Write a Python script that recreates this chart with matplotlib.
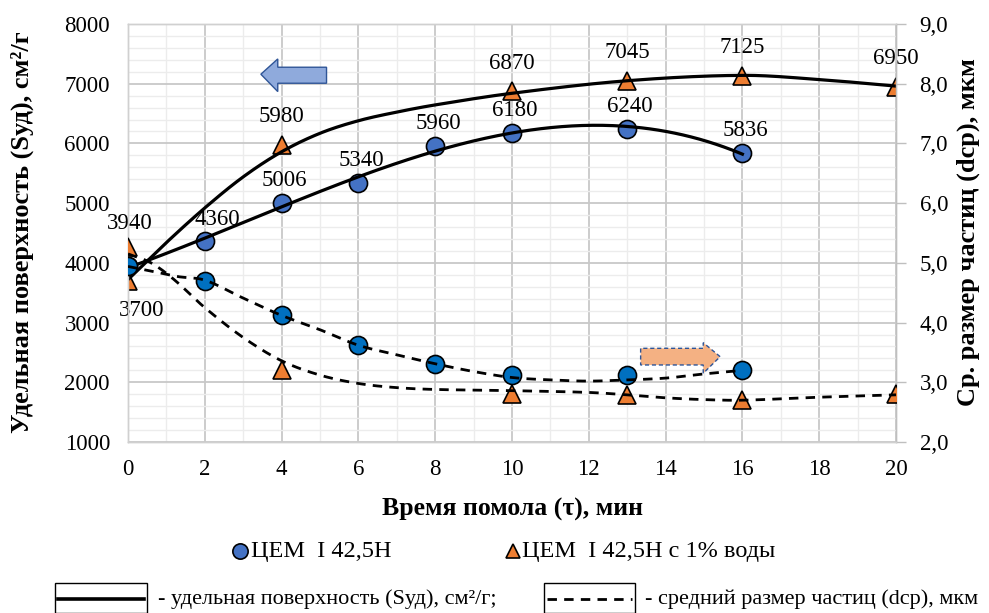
import numpy as np
import matplotlib
matplotlib.use("Agg")
import matplotlib.pyplot as plt
from matplotlib.patches import Polygon, Rectangle
from matplotlib.lines import Line2D

plt.rcParams['font.family'] = ['Liberation Serif', 'DejaVu Serif']

# ---------------- data ----------------
t_blue = [0, 2, 4, 6, 8, 10, 13, 16]
syd_blue = [3940, 4360, 5006, 5340, 5960, 6180, 6240, 5836]
dcp_blue = [4.95, 4.7, 4.12, 3.62, 3.31, 3.12, 3.12, 3.21]

t_orange = [0, 4, 10, 13, 16, 20]
syd_orange = [3700, 5980, 6870, 7045, 7125, 6950]
dcp_orange = [5.27, 3.2, 2.8, 2.78, 2.71, 2.8]

# trend curves
tr_syd_or_t = [0, 1, 2, 3, 4, 5, 6, 7, 8, 10, 13, 16, 18, 20]
tr_syd_or_v = [3720, 4340, 4920, 5440, 5860, 6170, 6380, 6525, 6645, 6840, 7050,
               7140, 7070, 6960]
tr_dcp_blue_t = [0, 0.7, 1.3, 2, 3, 4, 5, 6, 7, 8, 9, 10, 11, 12, 13, 14, 15, 16]
tr_dcp_blue_v = [4.94, 4.85, 4.77, 4.71, 4.41, 4.12, 3.88, 3.62, 3.46, 3.31, 3.18,
                 3.08, 3.04, 3.02, 3.04, 3.07, 3.14, 3.2]
tr_dcp_or_t = [0, 0.6, 1.2, 2, 3, 4, 5, 6, 7, 8, 10, 12, 13, 14, 15, 16, 18, 20]
tr_dcp_or_v = [5.15, 5.0, 4.72, 4.25, 3.75, 3.36, 3.12, 2.98, 2.91, 2.88, 2.86,
               2.83, 2.79, 2.74, 2.71, 2.70, 2.75, 2.79]

xticks = list(range(0, 21, 2))
yticks_left = list(range(1000, 8001, 1000))
yticks_right = [2.0, 3.0, 4.0, 5.0, 6.0, 7.0, 8.0, 9.0]


def smooth(tx, vy, n=30):
    """Hermite rendering of a read polyline with finite-difference slopes."""
    x = np.asarray(tx, float); y = np.asarray(vy, float)
    m = np.empty_like(y)
    m[1:-1] = (y[2:] - y[:-2]) / (x[2:] - x[:-2])
    m[0] = (y[1] - y[0]) / (x[1] - x[0])
    m[-1] = (y[-1] - y[-2]) / (x[-1] - x[-2])
    xs, ys = [], []
    for i in range(len(x) - 1):
        h = x[i + 1] - x[i]
        s = np.linspace(0, 1, n, endpoint=False)
        h00 = 2 * s**3 - 3 * s**2 + 1
        h10 = s**3 - 2 * s**2 + s
        h01 = -2 * s**3 + 3 * s**2
        h11 = s**3 - s**2
        xs.append(x[i] + s * h)
        ys.append(h00 * y[i] + h10 * h * m[i] + h01 * y[i + 1] + h11 * h * m[i + 1])
    xs.append([x[-1]]); ys.append([y[-1]])
    return np.concatenate(xs), np.concatenate(ys)


def poly_trend(tx, vy, deg):
    c = np.polyfit(tx, vy, deg)
    xs = np.linspace(min(tx), max(tx), 300)
    return xs, np.polyval(c, xs)


W, H = 989, 613
fig = plt.figure(figsize=(W / 100, H / 100), dpi=100)
L, R, T, B = 128, 896, 24, 442
ax = fig.add_axes([L / W, 1 - B / H, (R - L) / W, (B - T) / H])
ax2 = ax.twinx()

ax.set_xlim(0, 20)
ax.set_ylim(1000, 8000)
ax2.set_ylim(2, 9)

ax.set_xticks(xticks)
ax.set_xticks(range(0, 21), minor=True)
ax.set_yticks(yticks_left)
ax.set_yticks(range(1000, 8001, 200), minor=True)
ax.grid(which='major', color='#c8c8c8', lw=1.3)
ax.grid(which='minor', color='#ececec', lw=1.0)
ax.set_axisbelow(True)

ax.tick_params(axis='both', which='both', length=0, labelsize=16.5)
ax.tick_params(axis='y', pad=13)
ax.tick_params(axis='x', pad=12)
ax2.set_yticks(yticks_right)
ax2.set_yticklabels([f"{v:.1f}".replace('.', ',') for v in yticks_right])
ax2.tick_params(axis='y', length=7, width=1, color='#bfbfbf', labelsize=16.5, pad=10, direction='out')
for a in (ax, ax2):
    for s in a.spines.values():
        s.set_color('#d0d0d0')
        s.set_linewidth(1.0)
ax2.spines['right'].set_color('#bfbfbf')

# markers
ax.plot(t_blue, syd_blue, 'o', ms=13, mfc='#4472C4', mec='black', mew=1.2, zorder=3)
ax.plot(t_orange, syd_orange, '^', ms=13, mfc='#ED7D31', mec='black', mew=1.2, zorder=3)
ax2.plot(t_blue, dcp_blue, 'o', ms=13, mfc='#0070C0', mec='black', mew=1.2, zorder=3)
ax2.plot(t_orange, dcp_orange, '^', ms=13, mfc='#ED7D31', mec='black', mew=1.2, zorder=3)

# trend lines
x, y = poly_trend(t_blue, syd_blue, 3)
ax.plot(x, y, color='black', lw=2.3, zorder=4)
x, y = smooth(tr_syd_or_t, tr_syd_or_v)
ax.plot(x, y, color='black', lw=2.3, zorder=4)
x, y = smooth(tr_dcp_blue_t, tr_dcp_blue_v)
ax2.plot(x, y, color='black', lw=2.0, ls=(0, (3.4, 2.6)), zorder=4)
x, y = smooth(tr_dcp_or_t, tr_dcp_or_v)
ax2.plot(x, y, color='black', lw=2.0, ls=(0, (3.4, 2.6)), zorder=4)

# data labels
lab_kw = dict(textcoords='offset points', ha='center', va='center', fontsize=16.5, zorder=6)
for i, (t, v) in enumerate(zip(t_blue, syd_blue)):
    if i == 0:
        off = (1.5, 31)
    elif i == 1:
        off = (9, 16)
    else:
        off = (2, 16)
    ax.annotate(str(v), (t, v), xytext=off, **lab_kw)
for i, (t, v) in enumerate(zip(t_orange, syd_orange)):
    off = (10, -21.5) if i == 0 else (0, 20.5)
    ax.annotate(str(v), (t, v), xytext=off, **lab_kw)

# arrows (annotation shapes)
left_arrow = [(3.46, 7159), (3.9, 7415), (3.9, 7276), (5.17, 7276), (5.17, 7008),
              (3.9, 7008), (3.9, 6868)]
ax.add_patch(Polygon(left_arrow, closed=True, fc='#8FAADC', ec='#2F5597', lw=1.0, zorder=5))
right_arrow = [(15.42, 2429), (14.98, 2663), (14.98, 2569), (13.35, 2569), (13.35, 2290),
               (14.98, 2290), (14.98, 2151)]
ax.add_patch(Polygon(right_arrow, closed=True, fc='#F4B183', ec='#2F5597', lw=1.0,
                     ls=(0, (3, 2)), zorder=5))

# axis labels
ax.set_xlabel('Время помола (τ), мин', fontsize=18.5, fontweight='bold', labelpad=13)
fig.text(22 / W, 1 - 232 / H, 'Удельная поверхность (Sуд), см²/г', rotation=90,
         ha='center', va='center', fontsize=19, fontweight='bold')
fig.text(968 / W, 1 - 232 / H, 'Ср. размер частиц (dср), мкм', rotation=90,
         ha='center', va='center', fontsize=19, fontweight='bold')

# marker legend
ly = 1 - 551 / H
fig.add_artist(Line2D([240 / W], [ly], marker='o', ms=11, mfc='#4472C4', mec='black',
                      mew=1.2, transform=fig.transFigure))
fig.text(251 / W, ly, 'ЦЕМ  I 42,5Н', ha='left', va='center', fontsize=17.5)
fig.add_artist(Line2D([513 / W], [ly], marker='^', ms=10, mfc='#ED7D31', mec='black',
                      mew=1.2, transform=fig.transFigure))
fig.text(522 / W, ly, 'ЦЕМ  I 42,5Н с 1% воды', ha='left', va='center', fontsize=17.5)

# line-style legend boxes
for x0, x1, ls in [(55, 147, '-'), (544, 635, (0, (3.4, 2.6)))]:
    fig.add_artist(Rectangle((x0 / W, 0), (x1 - x0) / W, (H - 583) / H,
                             transform=fig.transFigure, fill=False, ec='black', lw=1.0))
    fig.add_artist(Line2D([(x0 + 3) / W, (x1 - 3) / W], [1 - 599 / H] * 2,
                          transform=fig.transFigure, color='black',
                          lw=2.6 if ls == '-' else 2.0, ls=ls))
fig.text(158 / W, 1 - 599 / H, '- удельная поверхность (Sуд), см²/г;', ha='left',
         va='center', fontsize=16)
fig.text(645 / W, 1 - 599 / H, '- средний размер частиц (dср), мкм', ha='left',
         va='center', fontsize=16)

fig.savefig('out.png', dpi=100)
